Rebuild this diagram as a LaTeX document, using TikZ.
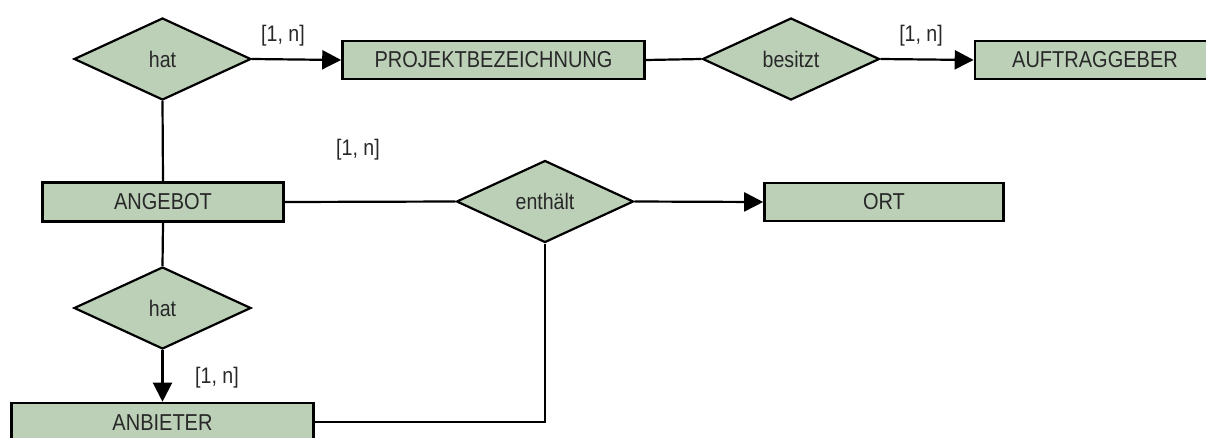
\documentclass[tikz,border=0pt]{standalone}
\usepackage{fontspec}
\setmainfont[FakeStretch=0.87]{Liberation Sans}
\usetikzlibrary{shapes.geometric,arrows.meta}
\definecolor{erfill}{RGB}{188,208,184}
\definecolor{ertext}{RGB}{40,40,40}
\tikzset{
  entity/.style={draw=black, line width=2.6pt, fill=erfill, rectangle,
    inner sep=0pt, minimum height=38pt, text=ertext,
    font=\fontsize{23}{25}\selectfont},
  relation/.style={draw=black, line width=2.2pt, fill=erfill, diamond,
    inner sep=0pt, minimum width=177pt, minimum height=82pt, text=ertext,
    font=\fontsize{22.5}{24}\selectfont},
  conn/.style={line width=2.2pt, draw=black},
  tip/.style={conn, -{Triangle[length=19pt,width=19pt]}},
  card/.style={text=ertext, inner sep=0pt, font=\fontsize{22.5}{24}\selectfont}
}
\begin{document}
\begin{tikzpicture}[x=1pt, y=-1pt]
  \useasboundingbox (0,0) rectangle (1206,437);
  \clip (0,0) rectangle (1206,437);

  % relationships
  \node[relation] (hat1)    at (162.5, 59)  {hat};
  \node[relation] (besitzt) at (791, 59)    {besitzt};
  \node[relation] (enth)    at (545, 201.5) {enthält};
  \node[relation] (hat2)    at (162.5, 308) {hat};

  % entities
  \node[entity, minimum width=302pt] (proj)  at (493.5, 60)  {PROJEKTBEZEICHNUNG};
  \node[entity, minimum width=240pt] (auft)  at (1095, 60)   {AUFTRAGGEBER};
  \node[entity, minimum width=241pt, minimum height=39pt] (angebot) at (163, 202) {ANGEBOT};
  \node[entity, minimum width=239pt, minimum height=38pt] (ort) at (884, 202) {ORT};
  \node[entity, minimum width=302pt, minimum height=40pt] (anbieter) at (162.5, 423) {ANBIETER};

  % connectors
  \draw[tip]  (hat1.east) -- (proj.west);
  \draw[conn] (proj.east) -- (besitzt.west);
  \draw[tip]  (besitzt.east) -- (auft.west);
  \draw[conn] (hat1.south) -- (angebot.north);
  \draw[conn] (angebot.east) -- (enth.west);
  \draw[tip]  (enth.east) -- (ort.west);
  \draw[conn] (angebot.south) -- (hat2.north);
  \draw[tip]  (hat2.south) -- (anbieter.north);
  \draw[conn] (anbieter.east |- 0,422) -| (enth.south);

  % cardinalities
  \node[card] (c1) at (283, 36)  {[1, n]};
  \node[card] (c2) at (921, 36)  {[1, n]};
  \node[card] (c3) at (358, 150) {[1, n]};
  \node[card] (c4) at (217, 378) {[1, n]};
\end{tikzpicture}
\end{document}
